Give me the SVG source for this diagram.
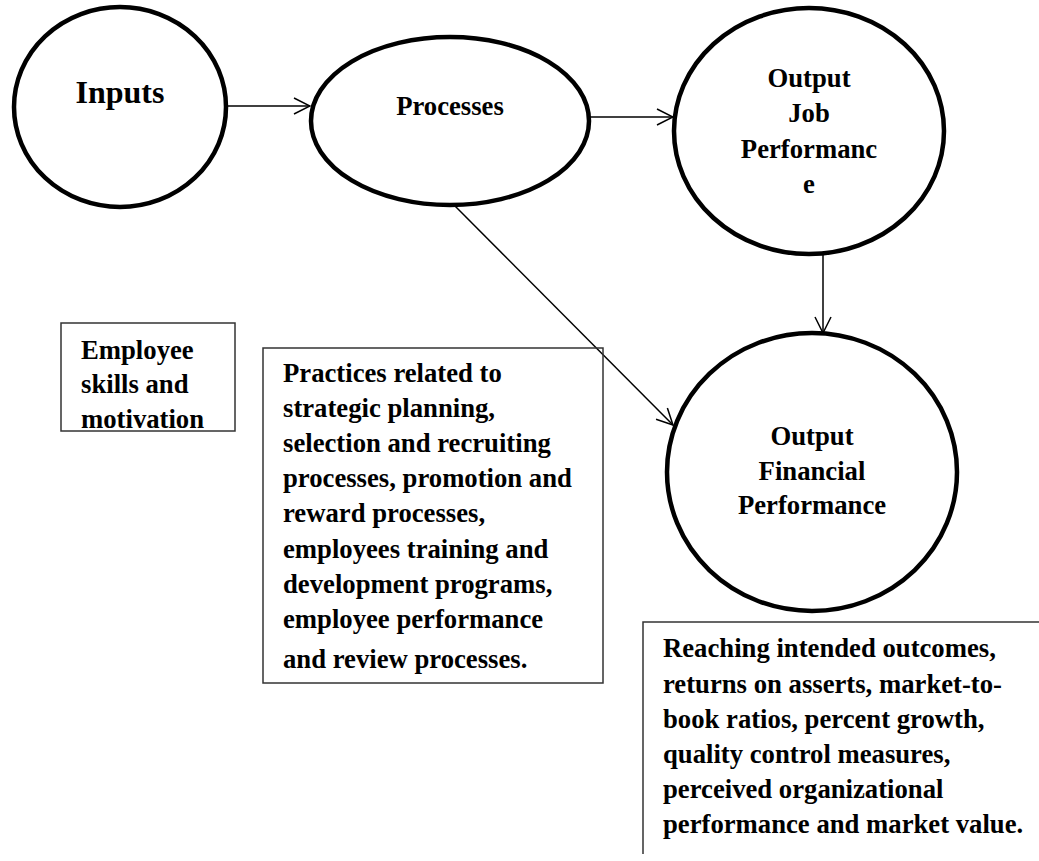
<svg xmlns="http://www.w3.org/2000/svg" width="1039" height="861" viewBox="0 0 1039 861">
<defs>
<style>
.node{fill:#fff;stroke:#000;stroke-width:4.5}
.box{fill:none;stroke:#333;stroke-width:1.5}
.conn{fill:none;stroke:#000;stroke-width:1.5;marker-end:url(#arr)}
text{font-family:"Liberation Serif","Times New Roman",serif;font-weight:bold;fill:#000}
.big{font-size:32px}
.t{font-size:26.7px}
.c{text-anchor:middle}
</style>
<marker id="arr" markerUnits="userSpaceOnUse" viewBox="0 0 18 18" refX="17" refY="9" markerWidth="18" markerHeight="18" orient="auto">
<path d="M1,1 L17,9 L1,17" fill="none" stroke="#000" stroke-width="1.5"/>
</marker>
</defs>
<rect width="1039" height="861" fill="#fff"/>
<g id="connectors">
<line class="conn" x1="227" y1="106" x2="310" y2="106"/>
<line class="conn" x1="590" y1="117" x2="673" y2="117"/>
<line class="conn" x1="823" y1="255" x2="823" y2="333"/>
<line class="conn" x1="455" y1="206" x2="673" y2="425"/>
</g>
<g id="inputs">
<ellipse class="node" cx="120" cy="107" rx="106" ry="100"/>
<text class="big c" x="120" y="103">Inputs</text>
</g>
<g id="processes">
<ellipse class="node" cx="450" cy="121" rx="139" ry="84"/>
<text class="t c" x="450" y="115">Processes</text>
</g>
<g id="output-job">
<ellipse class="node" cx="809" cy="131" rx="135" ry="123"/>
<text class="t c" x="809" y="87">Output</text>
<text class="t c" x="809" y="122">Job</text>
<text class="t c" x="809" y="158">Performanc</text>
<text class="t c" x="809" y="193">e</text>
</g>
<g id="output-financial">
<ellipse class="node" cx="812" cy="472" rx="145" ry="139"/>
<text class="t c" x="812" y="445">Output</text>
<text class="t c" x="812" y="480">Financial</text>
<text class="t c" x="812" y="514">Performance</text>
</g>
<g id="employee-box">
<rect class="box" x="61" y="323" width="174" height="108"/>
<text class="t" x="81" y="359">Employee</text>
<text class="t" x="81" y="393">skills and</text>
<text class="t" x="81" y="428">motivation</text>
</g>
<g id="practices-box">
<rect class="box" x="263" y="348" width="340" height="335"/>
<text class="t" x="283" y="382">Practices related to</text>
<text class="t" x="283" y="417">strategic planning,</text>
<text class="t" x="283" y="452">selection and recruiting</text>
<text class="t" x="283" y="487">processes, promotion and</text>
<text class="t" x="283" y="522">reward processes,</text>
<text class="t" x="283" y="558">employees training and</text>
<text class="t" x="283" y="593">development programs,</text>
<text class="t" x="283" y="628">employee performance</text>
<text class="t" x="283" y="668">and review processes.</text>
</g>
<g id="financial-box">
<path class="box" d="M643,854 V622 H1039"/>
<text class="t" x="663" y="657">Reaching intended outcomes,</text>
<text class="t" x="663" y="693">returns on asserts, market-to-</text>
<text class="t" x="663" y="728">book ratios, percent growth,</text>
<text class="t" x="663" y="763">quality control measures,</text>
<text class="t" x="663" y="798">perceived organizational</text>
<text class="t" x="663" y="833">performance and market value.</text>
</g>
</svg>
